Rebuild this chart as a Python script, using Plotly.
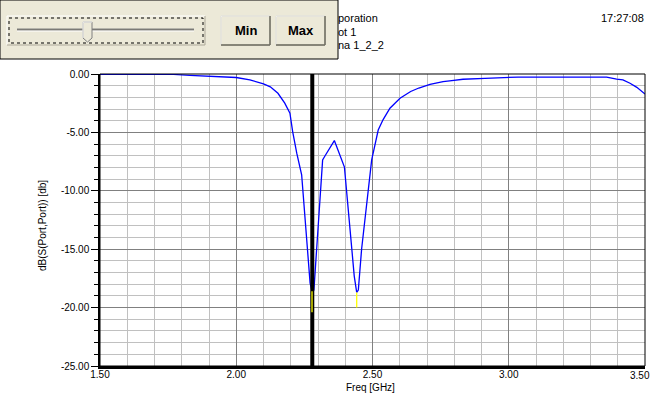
import plotly.graph_objects as go

# ---------------- data ----------------
freq_ghz = [1.50, 1.65, 1.77, 1.83, 1.89, 1.95, 2.00, 2.05, 2.10, 2.125, 2.153, 2.178,
            2.197, 2.207, 2.222, 2.240, 2.252, 2.264, 2.271, 2.278, 2.285, 2.295, 2.307,
            2.317, 2.326, 2.360, 2.397, 2.405, 2.424, 2.433, 2.442, 2.448, 2.460, 2.479,
            2.497, 2.521, 2.539, 2.564, 2.601, 2.64, 2.67, 2.711, 2.736, 2.759, 2.791,
            2.832, 2.913, 3.034, 3.20, 3.359, 3.396, 3.419, 3.445, 3.470, 3.500]
s11_db = [-0.02, -0.02, -0.04, -0.11, -0.16, -0.23, -0.30, -0.50, -0.85, -1.10, -1.65, -2.50,
          -3.36, -4.93, -6.78, -8.63, -12.2, -15.9, -17.9, -18.6, -18.5, -15.0, -11.0,
          -7.35, -7.0, -5.7, -7.97, -10.2, -14.8, -17.3, -18.7, -18.5, -15.0, -10.8,
          -7.35, -4.8, -3.9, -2.93, -2.08, -1.5, -1.2, -0.88, -0.74, -0.66, -0.57,
          -0.45, -0.37, -0.26, -0.26, -0.26, -0.43, -0.51, -0.79, -1.14, -1.71]

# minima extension segments (yellow)
min_freq = [2.278, 2.278, None, 2.442, 2.442]
min_db = [-18.6, -20.4, None, -18.7, -20.0]

marker_freq = 2.279

x_ticks = [1.5, 2.0, 2.5, 3.0, 3.5]
x_tick_labels = ["1.50", "2.00", "2.50", "3.00", "3.50"]
y_ticks = [0, -5, -10, -15, -20, -25]
y_tick_labels = ["0.00", "-5.00", "-10.00", "-15.00", "-20.00", "-25.00"]

header_lines = ["poration", "ot 1", "na 1_2_2"]
time_text = "17:27:08"
x_title = "Freq [GHz]"
y_title = "dB(S(Port,Port)) [db]"

# ---------------- layout helpers ----------------
W, H = 653, 395
L, R, T, B = 100, 8, 74, 29
PW, PH = W - L - R, H - T - B


def px(x):
    return (x - L) / PW


def py(y):
    return (T + PH - y) / PH


FONT = "Liberation Sans, Arial, sans-serif"
FACE = "#ECE9D8"

fig = go.Figure()
fig.add_trace(go.Scatter(x=freq_ghz, y=s11_db, mode="lines",
                         line=dict(color="#0000FF", width=1.3), showlegend=False))
fig.add_trace(go.Scatter(x=[marker_freq, marker_freq], y=[y_ticks[-1], y_ticks[0]], mode="lines",
                         line=dict(color="black", width=4), showlegend=False))
fig.add_trace(go.Scatter(x=min_freq, y=min_db, mode="lines",
                         line=dict(color="#FFFF00", width=1.3), showlegend=False))

shapes = []


def line(x0, y0, x1, y1, color, width=1, dash=None):
    d = dict(type="line", xref="paper", yref="paper", x0=px(x0), y0=py(y0), x1=px(x1), y1=py(y1),
             line=dict(color=color, width=width), layer="above")
    if dash:
        d["line"]["dash"] = dash
    shapes.append(d)


def rect(x0, y0, x1, y1, fill, color, width=1, dash=None):
    d = dict(type="rect", xref="paper", yref="paper", x0=px(x0), y0=py(y0), x1=px(x1), y1=py(y1),
             fillcolor=fill, line=dict(color=color, width=width), layer="above")
    if dash:
        d["line"]["dash"] = dash
    shapes.append(d)


# plot border (top/right thin)
shapes.append(dict(type="rect", xref="paper", yref="paper", x0=0, y0=0, x1=1, y1=1,
                   line=dict(color="black", width=1), layer="above"))

# control panel
rect(0, 0, 338, 59, FACE, "black", 1)
# slider frame
line(7, 16, 205, 16, "white")
line(7, 16, 7, 45, "white")
line(7, 45, 205, 45, "#ACA899")
line(205, 16, 205, 45, "#ACA899")
rect(9, 18, 203, 43, "rgba(0,0,0,0)", "black", 1, "dot")
# groove
line(17, 29, 194, 29, "#808080")
line(17, 30, 194, 30, "#404040")
line(17, 31, 194, 31, "white")
# thumb
shapes.append(dict(type="path", xref="paper", yref="paper",
                   path="M {a},{b} L {c},{b} L {c},{d} L {e},{f} L {a},{d} Z".format(
                       a=px(83), b=py(22), c=px(92), d=py(38), e=px(87.5), f=py(42)),
                   fillcolor=FACE, line=dict(color="#808080", width=1), layer="above"))
line(83, 22, 83, 38, "white")
line(83, 22, 92, 22, "white")

# buttons
for bx0, bx1 in [(221, 270), (276, 325)]:
    rect(bx0, 16, bx1, 45, FACE, "#ACA899", 1)
    line(bx0, 16, bx1, 16, "white")
    line(bx0, 16, bx0, 45, "white")
    line(bx0, 45, bx1, 45, "#716F64", 1.5)
    line(bx1, 16, bx1, 45, "#716F64", 1.5)

annotations = []
for txt, cx in [("Min", 245.5), ("Max", 300.5)]:
    annotations.append(dict(text=txt, x=px(cx), y=py(30.5), xref="paper", yref="paper",
                            xanchor="center", yanchor="middle", showarrow=False,
                            font=dict(family=FONT, size=13, color="black", weight="bold")))

for txt, yy in zip(header_lines, [18, 32, 45]):
    annotations.append(dict(text=txt, x=px(336), y=py(yy), xref="paper", yref="paper",
                            xanchor="left", yanchor="middle", showarrow=False,
                            font=dict(family=FONT, size=11, color="black")))
annotations.append(dict(text=time_text, x=px(646), y=py(18), xref="paper", yref="paper",
                        xanchor="right", yanchor="middle", showarrow=False,
                        font=dict(family=FONT, size=11, color="black")))

# last x tick label placed so it stays inside the page edge
annotations.append(dict(text=x_tick_labels[-1], x=x_ticks[-1], xref="x", y=py(375), yref="paper",
                        xanchor="center", yanchor="middle", xshift=-5, showarrow=False,
                        font=dict(family=FONT, size=10, color="black")))

annotations.append(dict(text=x_title, x=px(370), y=py(387), xref="paper", yref="paper",
                        xanchor="center", yanchor="middle", showarrow=False,
                        font=dict(family=FONT, size=10, color="black")))
annotations.append(dict(text=y_title, x=px(42), y=py(226), xref="paper", yref="paper",
                        xanchor="center", yanchor="middle", textangle=-90, showarrow=False,
                        font=dict(family=FONT, size=10, color="black")))

fig.update_layout(
    width=W, height=H,
    margin=dict(l=L, r=R, t=T, b=B, pad=0, autoexpand=False),
    paper_bgcolor="white", plot_bgcolor="white",
    font=dict(family=FONT, size=10, color="black"),
    showlegend=False,
    shapes=shapes,
    annotations=annotations,
    xaxis=dict(range=[1.5, 3.5], tickmode="array", tickvals=x_ticks[:-1], ticktext=x_tick_labels[:-1],
               showgrid=True, gridcolor="#808080", gridwidth=1,
               minor=dict(dtick=0.1, tick0=1.5, showgrid=True, gridcolor="#C0C0C0", gridwidth=1),
               showline=True, linecolor="black", linewidth=3, ticks="", zeroline=False,
               ticklabelstandoff=-3, ticklabeloverflow="allow", automargin=False,
               tickfont=dict(family=FONT, size=10, color="black"), fixedrange=True),
    yaxis=dict(range=[-25, 0], tickmode="array", tickvals=y_ticks, ticktext=y_tick_labels,
               showgrid=True, gridcolor="#808080", gridwidth=1,
               minor=dict(dtick=1, tick0=0, showgrid=True, gridcolor="#C0C0C0", gridwidth=1,
                          ticks="outside", ticklen=4, tickcolor="black"),
               showline=True, linecolor="black", linewidth=1.5, ticks="outside", ticklen=7,
               tickcolor="black", zeroline=False, ticklabeloverflow="allow", automargin=False,
               tickfont=dict(family=FONT, size=10, color="black"), fixedrange=True),
)

fig.write_html("out.html")
